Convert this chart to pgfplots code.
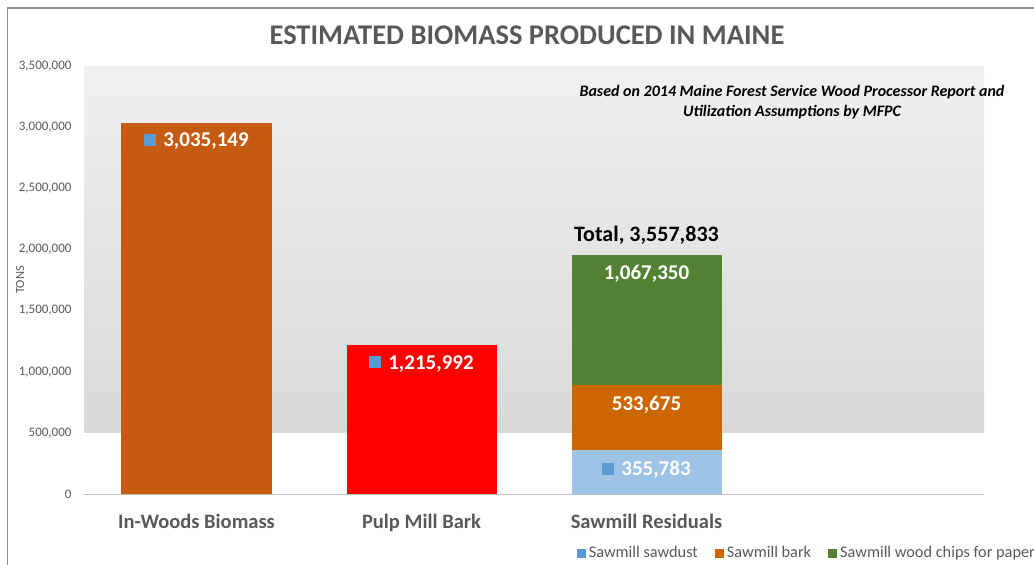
\documentclass[border=0pt]{standalone}
\usepackage{pgfplots}
\pgfplotsset{compat=1.18}
\usepackage{fontspec}
\setmainfont{Carlito}
\definecolor{woods}{HTML}{C55A11}
\definecolor{pulp}{HTML}{FF0000}
\definecolor{sawdust}{HTML}{9DC3E6}
\definecolor{bark}{HTML}{CC6600}
\definecolor{chips}{HTML}{548235}
\definecolor{lblue}{HTML}{5B9BD5}
\definecolor{txtgray}{HTML}{595959}
\definecolor{bandtop}{HTML}{F0F0F0}
\definecolor{bandbot}{HTML}{D9D9D9}
\definecolor{axisgray}{HTML}{BFBFBF}
\definecolor{framegray}{HTML}{8C8C8C}
\newcommand{\lbl}{\fontsize{21}{25}\selectfont\bfseries}
\newcommand{\sq}{\textcolor{lblue}{\raisebox{1pt}{\rule{12pt}{12pt}}}\hspace{7pt}}
\begin{document}
\begin{tikzpicture}
\useasboundingbox (0pt,0pt) rectangle (1034pt,-565pt);
\draw[framegray, line width=1.5pt] (7.5pt,-565pt) -- (7.5pt,-8pt) -- (1034pt,-8pt);
\node[font=\fontsize{28.5}{32}\selectfont\bfseries, text=txtgray] at (527pt,-35pt) {ESTIMATED BIOMASS PRODUCED IN MAINE};
\fill[top color=bandtop, bottom color=bandbot] (84pt,-432.86pt) rectangle (984pt,-66pt);
\begin{axis}[
  at={(84pt,-494pt)}, anchor=south west,
  scale only axis, width=900pt, height=428pt,
  xmin=-0.5, xmax=3.5, ymin=0, ymax=3500000,
  ybar stacked, bar width=150pt,
  axis x line*=bottom, axis y line*=left,
  y axis line style={draw=none},
  x axis line style={draw=axisgray, line width=1pt},
  xtick={0,1,2},
  xticklabels={In-Woods Biomass, Pulp Mill Bark, Sawmill Residuals},
  ytick={0,500000,...,3500000},
  major tick length=0pt,
  scaled y ticks=false,
  /pgf/number format/.cd, fixed, 1000 sep={,}, assume math mode=true, /pgfplots/.cd,
  tick label style={font=\fontsize{13}{15}\selectfont, text=txtgray},
  xticklabel style={font=\fontsize{20.5}{24}\selectfont\bfseries, yshift=-17pt},
  yticklabel style={xshift=-9pt},
  ylabel={TONS},
  ylabel style={at={(axis description cs:-0.071,0.50)}, anchor=center, font=\fontsize{12.5}{14}\selectfont, text=txtgray},
  legend columns=3,
  legend style={at={(axis description cs:0.544,-0.138)}, anchor=west, draw=none, fill=none,
    font=\fontsize{16.3}{18}\selectfont, text=txtgray,
    /tikz/every odd column/.append style={column sep=1pt},
    /tikz/every even column/.append style={column sep=15pt}},
  legend image code/.code={\fill[#1] (0pt,-4.5pt) rectangle (9pt,4.5pt);},
]
\addplot[fill=sawdust, draw=none, legend image code/.code={\fill[lblue] (0pt,-4.5pt) rectangle (9pt,4.5pt);}] coordinates {(0,0) (1,0) (2,355783)};
\addlegendentry{Sawmill sawdust}
\addplot[fill=bark, draw=none] coordinates {(0,0) (1,0) (2,533675)};
\addlegendentry{Sawmill bark}
\addplot[fill=chips, draw=none] coordinates {(0,0) (1,0) (2,1067350)};
\addlegendentry{Sawmill wood chips for paper}
\addplot[fill=woods, draw=none] coordinates {(0,3035149) (1,0) (2,0)};
\addplot[fill=pulp, draw=none] coordinates {(0,0) (1,1215992) (2,0)};
\coordinate (LA) at (axis cs:0,2885000);
\coordinate (LB) at (axis cs:1,1063000);
\coordinate (LC) at (axis cs:2,1799000);
\coordinate (LD) at (axis cs:2,728000);
\coordinate (LE) at (axis cs:2,196000);
\coordinate (LT) at (axis cs:2,2118000);
\end{axis}
\node[font=\lbl, text=white] at (LA) {\sq 3,035,149};
\node[font=\lbl, text=white] at (LB) {\sq 1,215,992};
\node[font=\lbl, text=white] at (LC) {1,067,350};
\node[font=\lbl, text=white] at (LD) {533,675};
\node[font=\lbl, text=white] at (LE) {\sq 355,783};
\node[font=\fontsize{22}{26}\selectfont\bfseries, text=black] at (LT) {Total, 3,557,833};
\node[align=center, font=\fontsize{16}{20}\selectfont\bfseries\itshape] at (792pt,-102pt) {Based on 2014 Maine Forest Service Wood Processor Report and\\Utilization Assumptions by MFPC};
\end{tikzpicture}
\end{document}
